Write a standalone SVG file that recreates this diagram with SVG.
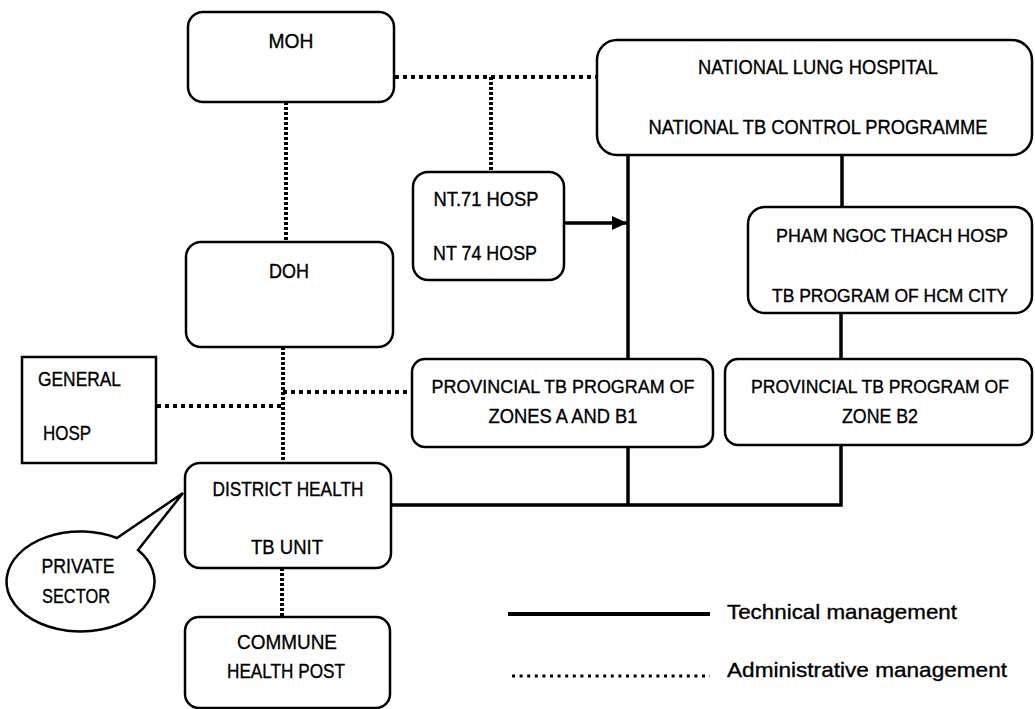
<svg xmlns="http://www.w3.org/2000/svg" width="1035" height="709" viewBox="0 0 1035 709">
<style>
.box{fill:#fff;stroke:#000;stroke-width:2.5}
.t{font-family:"Liberation Sans",Arial,sans-serif;font-size:20px;fill:#000;stroke:#000;stroke-width:0.35;text-anchor:middle}
.s{font-size:18px}
.l{font-family:"Liberation Sans",Arial,sans-serif;font-size:21px;fill:#000;stroke:#000;stroke-width:0.35}
.tech{fill:none;stroke:#000;stroke-width:3.5}
.admv{fill:none;stroke:#000;stroke-width:4;stroke-dasharray:3 2}
.admh{fill:none;stroke:#000;stroke-width:4;stroke-dasharray:4 4}
</style>
<defs>
<marker id="arr" markerWidth="15" markerHeight="14" refX="15" refY="7" orient="auto" markerUnits="userSpaceOnUse">
<path d="M0 0 L15 7 L0 14 Z" fill="#000"/>
</marker>
</defs>
<rect width="1035" height="709" fill="#fff"/>
<g id="connectors">
<path class="admh" d="M395 77 H597"/>
<path class="admv" d="M491 77 V172"/>
<path class="admv" d="M286 102 V242"/>
<path class="admv" d="M283 347 V463"/>
<path class="admh" d="M283 392 H412"/>
<path class="admh" d="M157 406 H283"/>
<path class="admv" d="M282 568 V617"/>
<path class="tech" d="M628 155 V359"/>
<path class="tech" d="M628 447 V505"/>
<path class="tech" d="M842 155 V207"/>
<path class="tech" d="M841 313 V359"/>
<path class="tech" d="M391 505 H841 V445"/>
<path class="tech" d="M564 223 H627" marker-end="url(#arr)"/>
</g>
<g id="moh">
<rect class="box" x="188" y="12" width="206" height="90" rx="15"/>
<text class="t" x="291" y="48" textLength="45" lengthAdjust="spacingAndGlyphs">MOH</text>
</g>
<g id="national">
<rect class="box" x="597" y="40" width="435" height="115" rx="20"/>
<text class="t" x="818" y="74" textLength="240" lengthAdjust="spacingAndGlyphs">NATIONAL LUNG HOSPITAL</text>
<text class="t" x="818" y="134" textLength="339" lengthAdjust="spacingAndGlyphs">NATIONAL TB CONTROL PROGRAMME</text>
</g>
<g id="nt">
<rect class="box" x="413" y="172" width="151" height="108" rx="15"/>
<text class="t" x="486" y="206" textLength="105" lengthAdjust="spacingAndGlyphs">NT.71 HOSP</text>
<text class="t" x="485" y="260" textLength="104" lengthAdjust="spacingAndGlyphs">NT 74 HOSP</text>
</g>
<g id="pham">
<rect class="box" x="748" y="207" width="284" height="106" rx="17"/>
<text class="t s" x="892" y="242" textLength="232" lengthAdjust="spacingAndGlyphs">PHAM NGOC THACH HOSP</text>
<text class="t s" x="890" y="302" textLength="236" lengthAdjust="spacingAndGlyphs">TB PROGRAM OF HCM CITY</text>
</g>
<g id="doh">
<rect class="box" x="186" y="242" width="207" height="105" rx="15"/>
<text class="t" x="289" y="278" textLength="40" lengthAdjust="spacingAndGlyphs">DOH</text>
</g>
<g id="general">
<rect class="box" x="22" y="357" width="134" height="106"/>
<text class="t" x="38" y="386" style="text-anchor:start" textLength="83" lengthAdjust="spacingAndGlyphs">GENERAL</text>
<text class="t" x="43" y="440" style="text-anchor:start" textLength="48" lengthAdjust="spacingAndGlyphs">HOSP</text>
</g>
<g id="provA">
<rect class="box" x="412" y="359" width="301" height="88" rx="13"/>
<text class="t s" x="563" y="393" textLength="263" lengthAdjust="spacingAndGlyphs">PROVINCIAL TB PROGRAM OF</text>
<text class="t" x="563" y="423" textLength="149" lengthAdjust="spacingAndGlyphs">ZONES A AND B1</text>
</g>
<g id="provB2">
<rect class="box" x="725" y="359" width="307" height="86" rx="13"/>
<text class="t s" x="880" y="393" textLength="258" lengthAdjust="spacingAndGlyphs">PROVINCIAL TB PROGRAM OF</text>
<text class="t" x="880" y="423" textLength="76" lengthAdjust="spacingAndGlyphs">ZONE B2</text>
</g>
<g id="district">
<rect class="box" x="185" y="463" width="206" height="105" rx="15"/>
<text class="t" x="288" y="496" textLength="151" lengthAdjust="spacingAndGlyphs">DISTRICT HEALTH</text>
<text class="t" x="287" y="554" textLength="72" lengthAdjust="spacingAndGlyphs">TB UNIT</text>
</g>
<g id="private">
<path class="box" d="M117 538 L183 493 L138 550 A74 50 0 1 1 117 538 Z"/>
<text class="t" x="78" y="573" textLength="73" lengthAdjust="spacingAndGlyphs">PRIVATE</text>
<text class="t" x="76" y="603" textLength="68" lengthAdjust="spacingAndGlyphs">SECTOR</text>
</g>
<g id="commune">
<rect class="box" x="185" y="617" width="205" height="91" rx="14"/>
<text class="t" x="287" y="649" textLength="100" lengthAdjust="spacingAndGlyphs">COMMUNE</text>
<text class="t" x="286" y="678" textLength="118" lengthAdjust="spacingAndGlyphs">HEALTH POST</text>
</g>
<g id="legend">
<path d="M508 614 H710" stroke="#000" stroke-width="4"/>
<path d="M512 676 H710" stroke="#000" stroke-width="3" stroke-dasharray="3 4.6"/>
<text class="l" x="727" y="619" textLength="230" lengthAdjust="spacingAndGlyphs">Technical management</text>
<text class="l" x="727" y="677" textLength="280" lengthAdjust="spacingAndGlyphs">Administrative management</text>
</g>
</svg>
